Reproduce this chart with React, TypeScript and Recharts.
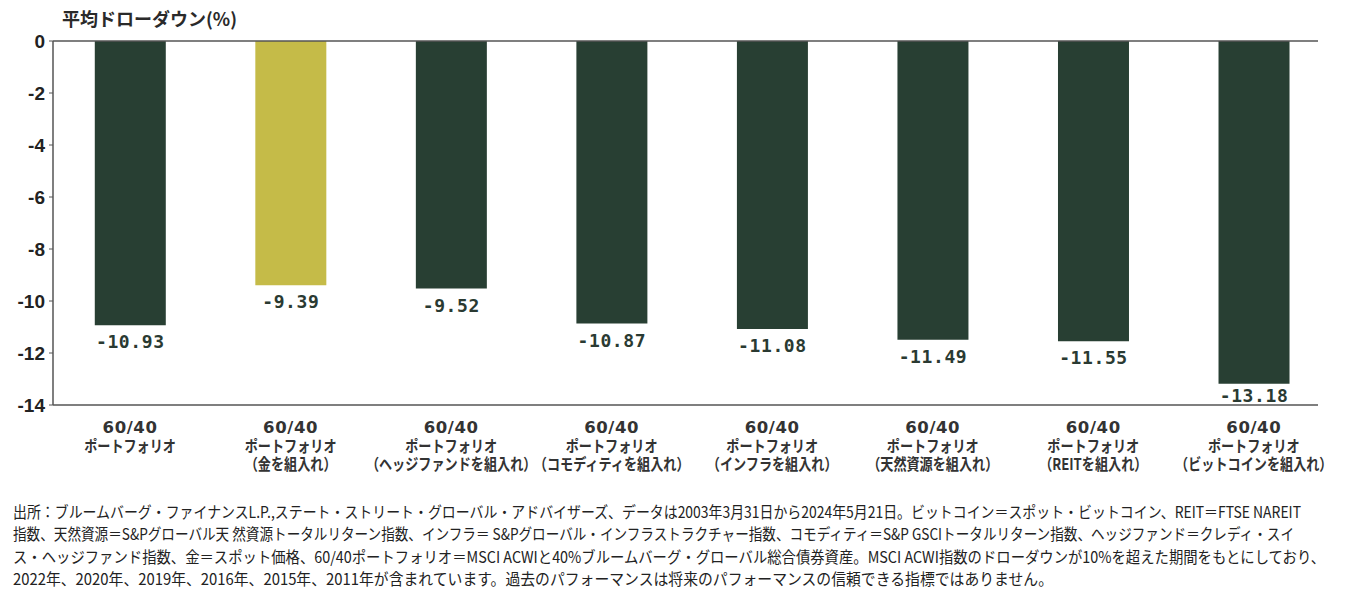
import React from 'react';
import { BarChart, Bar, XAxis, YAxis, Cell, LabelList, ReferenceLine } from 'recharts';

const line1Labels = ['60/40', '60/40', '60/40', '60/40', '60/40', '60/40', '60/40', '60/40'];
const line2Labels = ['ポートフォリオ', 'ポートフォリオ', 'ポートフォリオ', 'ポートフォリオ', 'ポートフォリオ', 'ポートフォリオ', 'ポートフォリオ', 'ポートフォリオ'];
const line3Labels = ['', '（金を組入れ）', '（ヘッジファンドを組入れ）', '（コモディティを組入れ）', '（インフラを組入れ）', '（天然資源を組入れ）', '（REITを組入れ）', '（ビットコインを組入れ）'];
const drawdowns = [-10.93, -9.39, -9.52, -10.87, -11.08, -11.49, -11.55, -13.18];
const highlightIndex = 1;
const yTicks = [0, -2, -4, -6, -8, -10, -12, -14];
const title = '平均ドローダウン(%)';
const footnoteLines = [
  '出所：ブルームバーグ・ファイナンスL.P.,ステート・ストリート・グローバル・アドバイザーズ、データは2003年3月31日から2024年5月21日。ビットコイン＝スポット・ビットコイン、REIT＝FTSE NAREIT',
  '指数、天然資源＝S&Pグローバル天 然資源トータルリターン指数、インフラ＝ S&Pグローバル・インフラストラクチャー指数、コモディティ＝S&P GSCIトータルリターン指数、ヘッジファンド＝クレディ・スイ',
  'ス・ヘッジファンド指数、金＝スポット価格、60/40ポートフォリオ＝MSCI ACWIと40%ブルームバーグ・グローバル総合債券資産。MSCI ACWI指数のドローダウンが10%を超えた期間をもとにしており、',
  '2022年、2020年、2019年、2016年、2015年、2011年が含まれています。過去のパフォーマンスは将来のパフォーマンスの信頼できる指標ではありません。',
];
const footnoteWidths = [1288, 1281, 1312, 1040];

const data = drawdowns.map((v, i) => ({ idx: i, value: v }));

const DARK = '#283f33';
const GOLD = '#c5bb48';
const AXIS = '#555555';
const JP = '"Noto Sans CJK JP", "Noto Sans", sans-serif';
const PLOT_BOTTOM = 405;

const XTick = (props: any) => {
  const { x, y, payload } = props;
  const i = Number(payload.value);
  return (
    <g>
      <text x={x} y={y + 28} textAnchor="middle" fontFamily='"DejaVu Sans", sans-serif' fontWeight="bold" fontSize={16.5} fill="#333" letterSpacing={0.6}>
        {line1Labels[i]}
      </text>
      <g transform={`translate(${x},${y + 47}) scale(0.82,1)`}>
        <text x={0} y={0} textAnchor="middle" fontFamily={JP} fontWeight="bold" fontSize={16} fill="#333">
          {line2Labels[i]}
        </text>
      </g>
      {line3Labels[i] ? (
        <g transform={`translate(${x},${y + 65}) scale(0.82,1)`}>
          <text x={0} y={0} textAnchor="middle" fontFamily={JP} fontWeight="bold" fontSize={16} fill="#333">
            {line3Labels[i]}
          </text>
        </g>
      ) : null}
    </g>
  );
};

const ValueLabel = (props: any) => {
  const { x, y, width, height, value } = props;
  const bottom = Math.max(Number(y), Number(y) + Number(height));
  const baseline = Math.min(bottom + 23, PLOT_BOTTOM - 3);
  return (
    <text x={Number(x) + Number(width) / 2} y={baseline} textAnchor="middle" fontFamily='"DejaVu Sans Mono", monospace' fontWeight="bold" fontSize={18} fill="#2a3a32" letterSpacing={0.6}>
      {Number(value).toFixed(2)}
    </text>
  );
};

export default function App() {
  return (
    <div style={{ position: 'absolute', left: 0, top: 0, width: 1353, height: 594, background: '#fff' }}>
      <BarChart width={1353} height={594} data={data} margin={{ top: 41, right: 35, left: 0, bottom: 89 }}>
        <XAxis
          type="number"
          dataKey="idx"
          domain={[-0.48, 7.4]}
          ticks={[0, 1, 2, 3, 4, 5, 6, 7]}
          allowDataOverflow
          interval={0}
          height={100}
          tickLine={false}
          tickSize={0}
          tickMargin={0}
          axisLine={{ stroke: AXIS, strokeWidth: 1.5 }}
          tick={<XTick />}
        />
        <YAxis
          type="number"
          domain={[-14, 0]}
          ticks={yTicks}
          width={53}
          tickSize={4}
          tickMargin={4}
          axisLine={{ stroke: AXIS, strokeWidth: 1.5 }}
          tickLine={{ stroke: AXIS }}
          tick={{ fontFamily: '"Liberation Sans", Arial, sans-serif', fontWeight: 'bold', fontSize: 19, fill: '#222' }}
        />
        <Bar dataKey="value" barSize={71} isAnimationActive={false}>
          {data.map((d, i) => (
            <Cell key={i} fill={i === highlightIndex ? GOLD : DARK} />
          ))}
          <LabelList dataKey="value" content={<ValueLabel />} />
        </Bar>
        <ReferenceLine y={0} stroke={AXIS} strokeWidth={1.5} />
      </BarChart>
      <svg width={1353} height={594} style={{ position: 'absolute', left: 0, top: 0, pointerEvents: 'none' }}>
        <text x={62} y={26} fontFamily={JP} fontWeight="bold" fontSize={18} fill="#2a2a2a">
          {title}
        </text>
        {footnoteLines.map((t, i) => (
          <text key={i} x={13} y={518 + i * 22.3} fontFamily={JP} fontSize={15.5} fill="#222" textLength={footnoteWidths[i]} lengthAdjust="spacingAndGlyphs">
            {t}
          </text>
        ))}
      </svg>
    </div>
  );
}
